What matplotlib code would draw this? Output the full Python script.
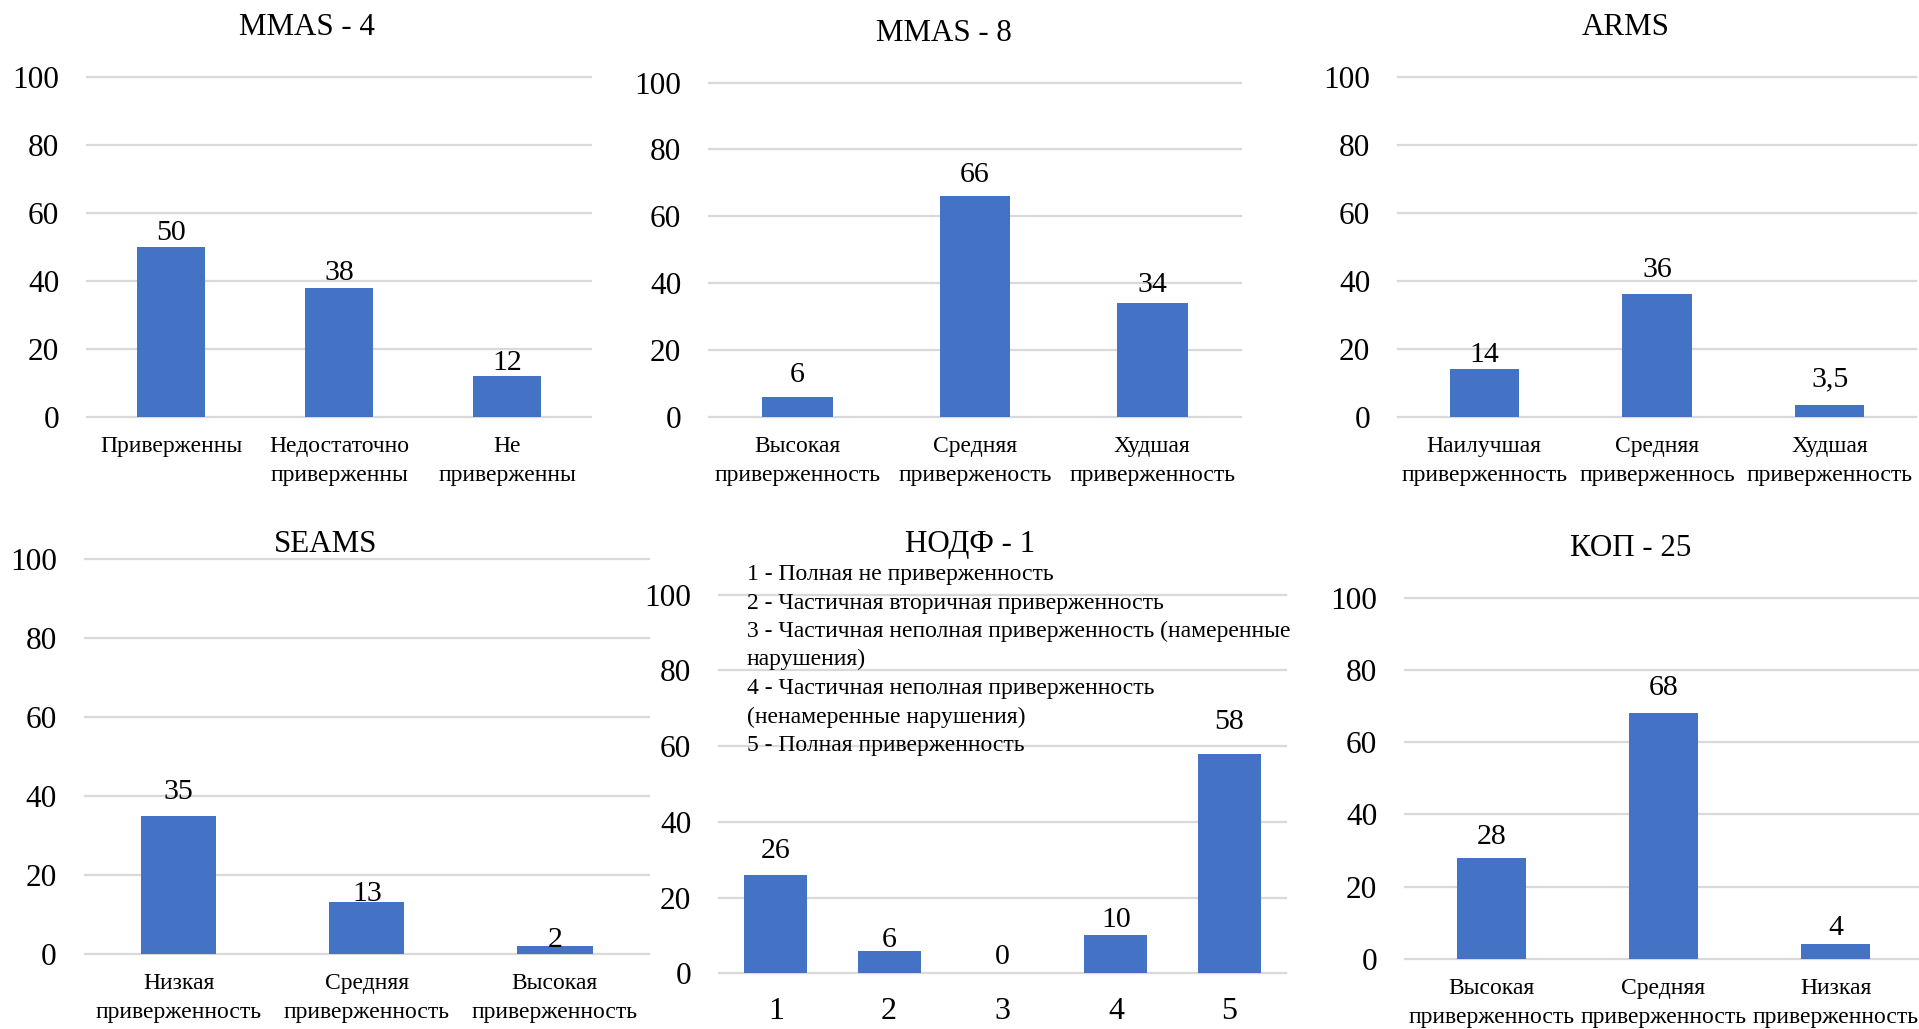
import matplotlib
matplotlib.use("Agg")
import matplotlib.pyplot as plt

plt.rcParams['font.family'] = ['Liberation Serif', 'DejaVu Serif']
plt.rcParams['text.color'] = '#000000'

BAR_COLOR = '#4472C4'
GRID_COLOR = '#D9D9D9'

# ---- data ----
y_ticks = [0, 20, 40, 60, 80, 100]

mmas4_title = 'MMAS - 4'
mmas4_cats = ['Приверженны', 'Недостаточно\nприверженны', 'Не\nприверженны']
mmas4_vals = [50, 38, 12]

mmas8_title = 'MMAS - 8'
mmas8_cats = ['Высокая\nприверженность', 'Средняя\nприверженость', 'Худшая\nприверженность']
mmas8_vals = [6, 66, 34]

arms_title = 'ARMS'
arms_cats = ['Наилучшая\nприверженность', 'Средняя\nприверженнось', 'Худшая\nприверженность']
arms_vals = [14, 36, 3.5]

seams_title = 'SEAMS'
seams_cats = ['Низкая\nприверженность', 'Средняя\nприверженность', 'Высокая\nприверженность']
seams_vals = [35, 13, 2]

nodf_title = 'НОДФ - 1'
nodf_cats = ['1', '2', '3', '4', '5']
nodf_vals = [26, 6, 0, 10, 58]
nodf_key = [
    '1 - Полная не приверженность',
    '2 - Частичная вторичная приверженность',
    '3 - Частичная неполная приверженность (намеренные',
    'нарушения)',
    '4 - Частичная неполная приверженность',
    '(ненамеренные нарушения)',
    '5 - Полная приверженность',
]

kop_title = 'КОП - 25'
kop_cats = ['Высокая\nприверженность', 'Средняя\nприверженность', 'Низкая\nприверженность']
kop_vals = [28, 68, 4]

# ---- layout (pixels) ----
W, H = 1919, 1029
fig = plt.figure(figsize=(W / 100, H / 100), dpi=100)
fig.patch.set_facecolor('white')


def px_axes(left, right, top, bottom):
    return fig.add_axes([left / W, 1 - bottom / H, (right - left) / W, (bottom - top) / H])


def fmt(v):
    return str(int(v)) if float(v).is_integer() else str(v).replace('.', ',')


def panel(rect, title, title_xy, cats, vals, width, label_gaps,
          cat_size=17, cat_pad=14):
    ax = px_axes(*rect)
    n = len(cats)
    x = list(range(n))
    ax.bar(x, vals, width=width, color=BAR_COLOR, zorder=3)
    ax.set_xlim(-0.5, n - 0.5)
    ax.set_ylim(0, 100)
    ax.set_yticks(y_ticks)
    ax.set_xticks(x)
    ax.set_xticklabels(cats, linespacing=1.5)
    for s in ax.spines.values():
        s.set_visible(False)
    ax.yaxis.grid(True, color=GRID_COLOR, linewidth=1.6, zorder=0)
    for gl in ax.get_ygridlines():
        gl.set_clip_on(False)
    ax.tick_params(axis='y', length=0, pad=20, labelsize=22.5)
    ax.tick_params(axis='x', length=0, pad=cat_pad, labelsize=cat_size)
    ax.set_facecolor('none')
    # value labels above the bars (gap given in pixels)
    for xi, v, g in zip(x, vals, label_gaps):
        ax.annotate(fmt(v), xy=(xi, v), xytext=(0, g * 0.72),
                    textcoords='offset points', ha='center', va='baseline',
                    fontsize=21.5, zorder=4)
    fig.text(title_xy[0] / W, 1 - title_xy[1] / H, title,
             ha='center', va='baseline', fontsize=22.3)
    return ax


panel((87, 591, 77, 416.7), mmas4_title, (307, 35), mmas4_cats, mmas4_vals, 0.4, [7, 7.6, 6])
panel((709, 1241, 82.7, 416.7), mmas8_title, (944, 41), mmas8_cats, mmas8_vals, 0.4, [15, 14.6, 11.5])
panel((1398, 1916, 77, 416.7), arms_title, (1626, 35), arms_cats, arms_vals, 0.4, [7.4, 17.7, 18])
panel((84.5, 649, 559, 953.8), seams_title, (326, 552), seams_cats, seams_vals, 0.4, [17, 1, -1])
panel((719, 1286, 594.5, 973.3), nodf_title, (970, 552), nodf_cats, nodf_vals, 0.556,
      [17, 3.6, 9.4, 8.6, 25], cat_size=23, cat_pad=17)
panel((1405, 1922, 597.8, 958.8), kop_title, (1631, 555.7), kop_cats, kop_vals, 0.4, [13.7, 18.3, 9.2])

# key for the НОДФ - 1 scale
for i, line in enumerate(nodf_key):
    fig.text(747 / W, 1 - (580 + i * 28.5) / H, line,
             ha='left', va='baseline', fontsize=17)

fig.savefig('out.png', dpi=100, facecolor='white')
